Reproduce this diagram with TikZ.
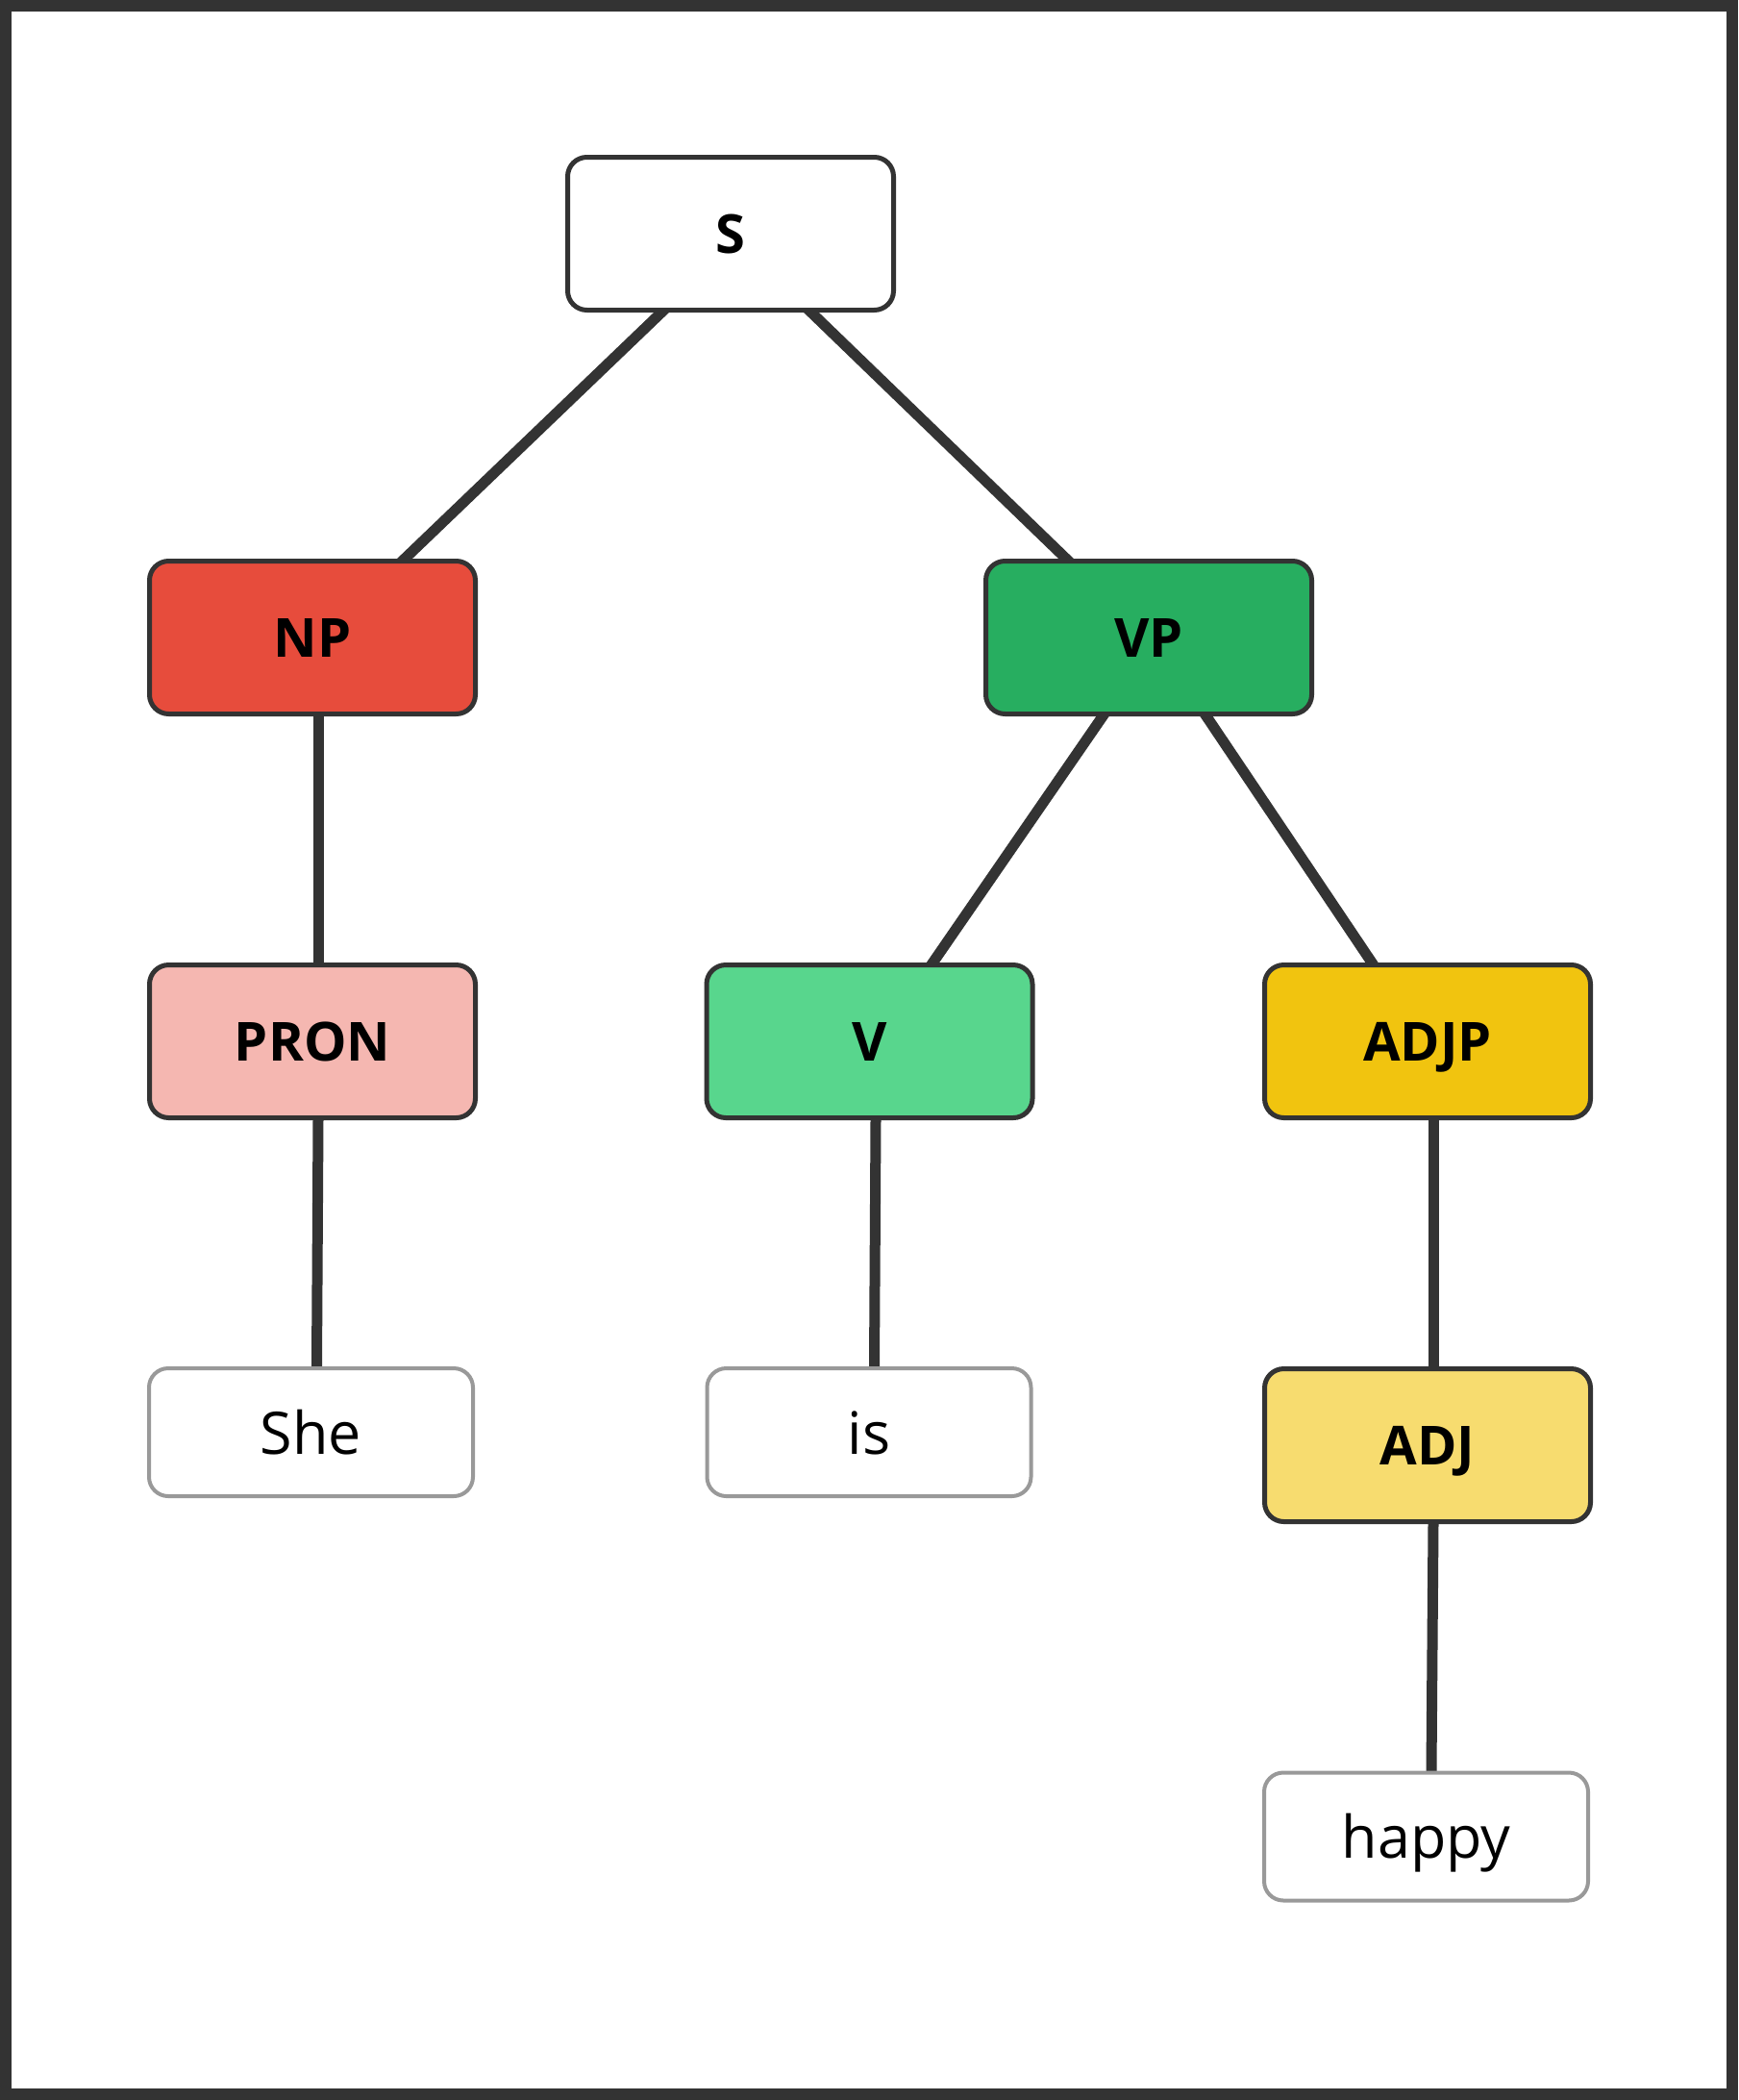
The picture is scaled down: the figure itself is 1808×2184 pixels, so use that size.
\documentclass[tikz,border=0pt]{standalone}
\usepackage{fontspec}
\setmainfont{Open Sans}
\usetikzlibrary{calc,backgrounds}
\definecolor{dark}{HTML}{333333}
\definecolor{wordgray}{HTML}{999999}
\definecolor{npred}{HTML}{E74C3C}
\definecolor{vpgreen}{HTML}{27AE60}
\definecolor{pronpink}{HTML}{F5B7B1}
\definecolor{vgreen}{HTML}{58D68D}
\definecolor{adjpyellow}{HTML}{F1C40F}
\definecolor{adjyellow}{HTML}{F7DC6F}
\tikzset{
  catbox/.style={draw=dark, line width=5pt, rounded corners=20pt,
    minimum width=339pt, minimum height=159pt, inner sep=0pt,
    text height=40pt, text depth=0pt,
    font=\fontsize{56}{60}\selectfont\bfseries},
  wordbox/.style={draw=wordgray, fill=white, line width=4pt, rounded corners=20pt,
    minimum width=337pt, minimum height=133pt, inner sep=0pt,
    text height=45pt, text depth=0pt,
    font=\fontsize{61}{66}\selectfont},
  branch/.style={draw=dark, line width=11pt, shorten <=-8pt, shorten >=-8pt}
}
\begin{document}
\begin{tikzpicture}[x=1pt,y=-1pt]
\useasboundingbox (0,0) rectangle (1808,2184);
\begin{scope}[on background layer]
  \fill[white] (0,0) rectangle (1808,2184);
\end{scope}
\draw[draw=dark, line width=12pt] (6,6) rectangle (1802,2178);

\node[catbox, fill=white] (S) at (760,243) {S};
\node[catbox, fill=npred] (NP) at (325,663) {NP};
\node[catbox, fill=vpgreen] (VP) at (1195,663) {VP};
\node[catbox, fill=pronpink] (PRON) at (325,1083) {PRON};
\node[catbox, fill=vgreen] (V) at (904.5,1083) {V};
\node[catbox, fill=adjpyellow] (ADJP) at (1485,1083) {ADJP};
\node[catbox, fill=adjyellow] (ADJ) at (1485,1503) {ADJ};
\node[wordbox] (she) at (323.5,1489.5) {She};
\node[wordbox] (is) at (904,1489.5) {is};
\node[wordbox] (happy) at (1483.5,1910) {happy};

\begin{scope}[on background layer]
  \draw[branch] ($(S.south)+(-72,0)$) -- ($(NP.north)+(96,0)$);
  \draw[branch] ($(S.south)+(84,0)$) -- ($(VP.north)+(-86,0)$);
  \draw[branch] ($(NP.south)+(6,0)$) -- ($(PRON.north)+(6,0)$);
  \draw[branch] ($(PRON.south)+(6,0)$) -- ($(she.north)+(6,0)$);
  \draw[branch] ($(VP.south)+(-48,0)$) -- ($(V.north)+(66,0)$);
  \draw[branch] ($(VP.south)+(60,0)$) -- ($(ADJP.north)+(-58,0)$);
  \draw[branch] ($(V.south)+(6.5,0)$) -- ($(is.north)+(5.5,0)$);
  \draw[branch] ($(ADJP.south)+(6,0)$) -- ($(ADJ.north)+(6,0)$);
  \draw[branch] ($(ADJ.south)+(6,0)$) -- ($(happy.north)+(5.5,0)$);
\end{scope}
\end{tikzpicture}
\end{document}
